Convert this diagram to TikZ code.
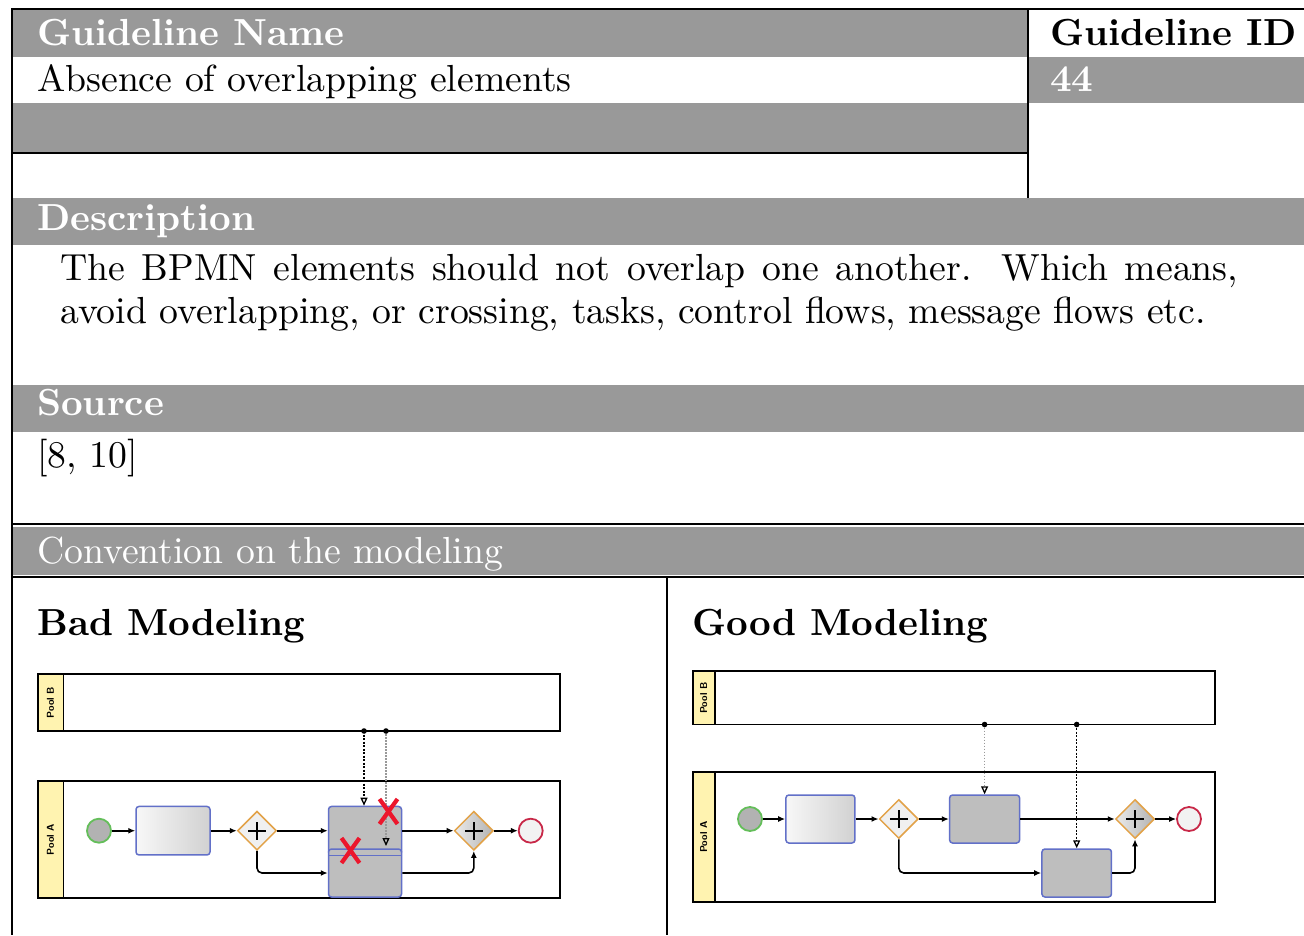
\documentclass[tikz,border=0pt]{standalone}
\usepackage{fontspec}
\setmainfont{lmroman10-regular.otf}[BoldFont=lmroman10-bold.otf,ItalicFont=lmroman10-italic.otf]
\usetikzlibrary{shapes.geometric,arrows.meta,calc}
\definecolor{hdrgray}{RGB}{153,153,153}
\definecolor{taskblue}{RGB}{98,112,200}
\definecolor{gwor}{RGB}{226,162,72}
\definecolor{startg}{RGB}{100,190,90}
\definecolor{endr}{RGB}{200,40,72}
\definecolor{pooly}{RGB}{255,243,176}
\definecolor{taskgray}{RGB}{190,190,190}
\definecolor{xred}{RGB}{236,22,44}
\newcommand{\bigfnt}{\fontsize{37.7pt}{45pt}\selectfont}
\newcommand{\poolfnt}{\fontsize{10pt}{11pt}\selectfont\sffamily\bfseries}
\begin{document}
\begin{tikzpicture}[x=1pt,y=-1pt,
  hdr/.style={text=white,font=\bigfnt\bfseries,anchor=base west,inner sep=0pt},
  hdrrm/.style={text=white,font=\bigfnt,anchor=base west,inner sep=0pt},
  bodytxt/.style={text=black,font=\bigfnt,anchor=base west,inner sep=0pt},
  bodybf/.style={text=black,font=\bigfnt\bfseries,anchor=base west,inner sep=0pt},
  blackrule/.style={line width=2pt,black},
  poolbox/.style={draw=black,line width=1.8pt,fill=white},
  poollab/.style={draw=black,line width=1.8pt,fill=pooly},
  poolname/.style={font=\poolfnt,rotate=90,inner sep=0pt},
  task/.style={draw=taskblue,line width=1.5pt,rounded corners=3pt,inner sep=0pt},
  lighttask/.style={task,left color=black!3,right color=black!18},
  graytask/.style={task,fill=taskgray},
  gw/.style={diamond,aspect=1,draw=gwor,line width=1.5pt,minimum width=39pt,minimum height=39pt,inner sep=0pt,
    path picture={
      \draw[line width=2pt,black] ([xshift=-9pt]path picture bounding box.center) -- ([xshift=9pt]path picture bounding box.center);
      \draw[line width=2pt,black] ([yshift=-9pt]path picture bounding box.center) -- ([yshift=9pt]path picture bounding box.center);}},
  gwlight/.style={gw,fill=black!6},
  gwdark/.style={gw,left color=black!8,right color=black!30},
  startev/.style={circle,draw=startg,line width=1.8pt,fill=black!30,minimum size=24pt,inner sep=0pt},
  endev/.style={circle,draw=endr,line width=1.8pt,fill=black!5,minimum size=24pt,inner sep=0pt},
  seq/.style={line width=1.6pt,black,-{Latex[length=7pt,width=6pt]}},
  msg/.style={line width=1.3pt,black,dash pattern=on 2pt off 1.5pt,-{Triangle[open,length=8pt,width=7pt]}},
  msglight/.style={line width=1.3pt,black!40,dash pattern=on 1.5pt off 1.5pt,-{Triangle[open,length=8pt,width=7pt,black]}},
  xmark/.style={line width=4.2pt,xred}
]
\useasboundingbox (0,0) rectangle (1304,935);
\fill[white] (0,0) rectangle (1304,935);

% ---------- table backgrounds ----------
\fill[hdrgray] (12,10) rectangle (1028,57);
\fill[hdrgray] (1028,57) rectangle (1304,103);
\fill[hdrgray] (12,103) rectangle (1028,152);
\fill[hdrgray] (12,198) rectangle (1304,245);
\fill[hdrgray] (12,385) rectangle (1304,432);
\fill[hdrgray] (12,527) rectangle (1304,575);

% ---------- table rules ----------
\draw[blackrule] (12,9) -- (1304,9);
\draw[blackrule] (12,8) -- (12,935);
\draw[blackrule] (1028,9) -- (1028,198);
\draw[blackrule] (12,152.5) -- (1028,152.5);
\draw[blackrule] (12,524) -- (1304,524);
\draw[blackrule] (12,576.5) -- (1304,576.5);
\draw[blackrule] (667,576.5) -- (667,935);

% ---------- table texts ----------
\node[hdr] (gname) at (37,45) {Guideline Name};
\node[bodybf] (gid) at (1050,45) {Guideline ID};
\node[bodytxt] (gval) at (37,91) {Absence of overlapping elements};
\node[hdr] (gidval) at (1050,91) {44};
\node[hdr] (desch) at (37,230) {Description};
\node[bodytxt] (desc1) at (60,280) {\hbox to 1178pt{The BPMN elements should not overlap one another. Which means,}};
\node[bodytxt] (desc2) at (60,323) {avoid overlapping, or crossing, tasks, control flows, message flows etc.};
\node[hdr] (srch) at (37,415) {Source};
\node[bodytxt] (src) at (37,467) {[8, 10]};
\node[hdrrm] (convh) at (37,563) {Convention on the modeling};
\node[bodybf] (badh) at (37,635) {Bad Modeling};
\node[bodybf] (goodh) at (692,635) {Good Modeling};

% ---------- Bad modeling diagram ----------
\draw[poolbox] (37.6,674) rectangle (560,731);
\draw[poollab] (37.6,674) rectangle (63.4,731);
\node[poolname] (bpoolb) at (50.5,702.5) {Pool B};
\draw[poolbox] (37.6,781) rectangle (560,898);
\draw[poollab] (37.6,781) rectangle (63.4,898);
\node[poolname] (bpoola) at (50.5,839.5) {Pool A};

\node[startev] (bs) at (99,830.7) {};
\node[lighttask,minimum width=74pt,minimum height=48.5pt] (bt1) at (173,830.7) {};
\node[gwlight] (bg1) at (257,830.7) {};
\node[graytask,minimum width=73pt,minimum height=48.5pt] (bt2) at (365,830.7) {};
\node[graytask,minimum width=73pt,minimum height=48pt] (bt3) at (365,873) {};
\draw[taskblue,line width=1.5pt] ([xshift=1pt]bt2.south west) -- ([xshift=-1pt]bt2.south east);
\node[gwdark] (bg2) at (473.8,830.7) {};
\node[endev] (be) at (530.7,830.7) {};

\draw[seq] (bs) -- (bt1);
\draw[seq] (bt1) -- (bg1);
\draw[seq] (bg1) -- (bt2);
\draw[seq,rounded corners=5pt] (bg1.south) |- (bt3.west);
\draw[seq] (bt2) -- (bg2);
\draw[seq,rounded corners=5pt] (bt3.east) -| (bg2.south);
\draw[seq] (bg2) -- (be);

\coordinate (bm1) at (364,731);
\coordinate (bm2) at (386,731);
\coordinate (bm2e) at (386,846);
\draw[msg] (bm1) -- (bm1 |- bt2.north);
\draw[msglight] (bm2) -- (bm2e);
\fill (bm1) circle (2.8pt);
\fill (bm2) circle (2.8pt);

\draw[xmark] (379.5,799) -- (397.5,824) (397.5,799) -- (379.5,824);
\draw[xmark] (341.5,838) -- (359.5,863) (359.5,838) -- (341.5,863);

% ---------- Good modeling diagram ----------
\draw[poolbox] (692.6,671) rectangle (1215,724.5);
\draw[poollab] (692.6,671) rectangle (715,724.5);
\node[poolname] (gpoolb) at (703.8,698) {Pool B};
\draw[poolbox] (692.6,772) rectangle (1215,902);
\draw[poollab] (692.6,772) rectangle (715,902);
\node[poolname] (gpoola) at (703.8,837) {Pool A};

\node[startev] (gs) at (750,819) {};
\node[lighttask,minimum width=69pt,minimum height=48pt] (gt1) at (820.4,819) {};
\node[gwlight] (gg1) at (898.8,819) {};
\node[graytask,minimum width=70pt,minimum height=48pt] (gt2) at (984.6,819) {};
\node[graytask,minimum width=69.5pt,minimum height=48pt] (gt3) at (1076.7,873) {};
\node[gwdark] (gg2) at (1135,819) {};
\node[endev] (ge) at (1189,819) {};

\draw[seq] (gs) -- (gt1);
\draw[seq] (gt1) -- (gg1);
\draw[seq] (gg1) -- (gt2);
\draw[seq] (gt2) -- (gg2);
\draw[seq] (gg2) -- (ge);
\draw[seq,rounded corners=5pt] (gg1.south) |- (gt3.west);
\draw[seq,rounded corners=5pt] (gt3.east) -| (gg2.south);

\coordinate (gm1) at (984.6,724.5);
\coordinate (gm2) at (1076.7,724.5);
\draw[msglight] (gm1) -- (gm1 |- gt2.north);
\draw[msg] (gm2) -- (gm2 |- gt3.north);
\fill (gm1) circle (2.8pt);
\fill (gm2) circle (2.8pt);
\end{tikzpicture}
\end{document}
